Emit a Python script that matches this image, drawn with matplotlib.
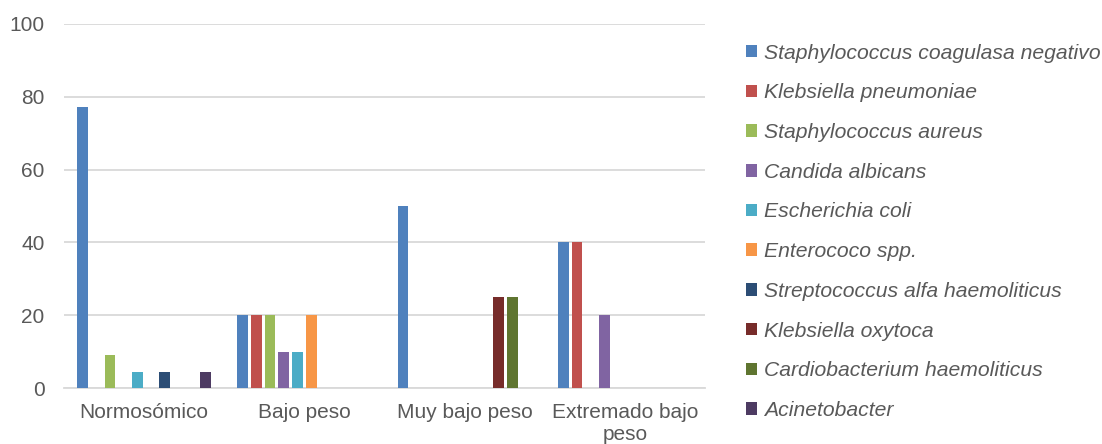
import matplotlib
matplotlib.use("Agg")
import matplotlib.pyplot as plt
import numpy as np

# data
categorias = ["Normosómico", "Bajo peso", "Muy bajo peso", "Extremado bajo\npeso"]
germenes = [
    "Staphylococcus coagulasa negativo",
    "Klebsiella pneumoniae",
    "Staphylococcus aureus",
    "Candida albicans",
    "Escherichia coli",
    "Enterococo spp.",
    "Streptococcus alfa haemoliticus",
    "Klebsiella oxytoca",
    "Cardiobacterium haemoliticus",
    "Acinetobacter",
]
valores = [
    [77.3, 20, 50, 40],   # S. coagulasa negativo
    [0, 20, 0, 40],       # K. pneumoniae
    [9.1, 20, 0, 0],      # S. aureus
    [0, 10, 0, 20],       # C. albicans
    [4.5, 10, 0, 0],      # E. coli
    [0, 20, 0, 0],        # Enterococo
    [4.5, 0, 0, 0],       # Streptococcus
    [0, 0, 25, 0],        # K. oxytoca
    [0, 0, 25, 0],        # Cardiobacterium
    [4.5, 0, 0, 0],       # Acinetobacter
]
colores = ["#4F81BD", "#C0504D", "#9BBB59", "#8064A2", "#4BACC6",
           "#F79646", "#2C4D75", "#772C2A", "#5F7530", "#4D3B62"]

plt.rcParams['font.family'] = ['Liberation Sans', 'DejaVu Sans']
gris = "#595959"

fig = plt.figure(figsize=(11.02, 4.44), dpi=100)
ax = fig.add_axes([0.0581, 0.1261, 0.5816, 0.8199])

x = np.arange(len(categorias))
slot = 0.0855
ancho = 0.067
n = len(germenes)
for i, (nombre, vals, c) in enumerate(zip(germenes, valores, colores)):
    pos = x + (i - (n - 1) / 2) * slot
    ax.bar(pos, vals, width=ancho, color=c, label=nombre, zorder=3)

ax.set_xlim(-0.5, len(categorias) - 0.5)
ax.set_ylim(0, 100)
ax.set_yticks(range(0, 101, 20))
ax.set_xticks(x)
ax.set_xticklabels(categorias, linespacing=1.15)
ax.tick_params(axis='both', length=0, labelsize=15, colors=gris)
ax.tick_params(axis='y', pad=14)
ax.tick_params(axis='x', pad=11)
ax.grid(axis='y', color="#D9D9D9", linewidth=1.3, zorder=0)
for s in ['top', 'right', 'left']:
    ax.spines[s].set_visible(False)
ax.spines['bottom'].set_color("#D9D9D9")
ax.spines['bottom'].set_linewidth(1.3)

leg = fig.legend(loc='upper left', bbox_to_anchor=(0.677, 0.9015), frameon=False,
                 handlelength=0.53, handleheight=0.53,
                 handletextpad=0.3, labelspacing=0.98, borderpad=0,
                 borderaxespad=0, prop={'style': 'italic', 'size': 15.2})
for t in leg.get_texts():
    t.set_color(gris)

fig.savefig("out.png", dpi=100)
